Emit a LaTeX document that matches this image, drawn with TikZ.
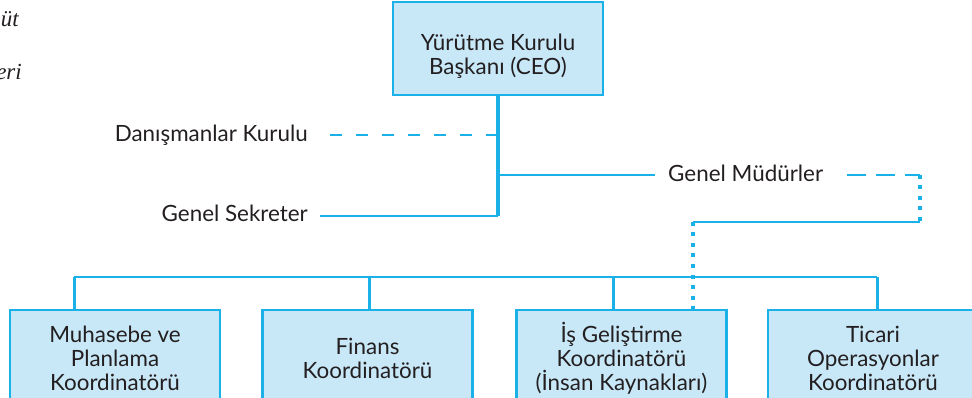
\documentclass[tikz,border=0pt]{standalone}
\usepackage{fontspec}
\setmainfont{Lato}
\newfontfamily\fragfont{Liberation Serif}
\usetikzlibrary{calc}
\definecolor{line}{HTML}{1AB0E8}
\definecolor{boxbg}{HTML}{C8E8F8}
\definecolor{ink}{HTML}{231F20}
\tikzset{
  box/.style={draw=line, fill=boxbg, line width=2.5pt, minimum width=210, minimum height=93, inner sep=0pt},
  lowbox/.style={box, minimum height=96, align=center, text=ink, font=\fontsize{22.4}{24}\selectfont},
  lab/.style={text=ink, inner sep=0pt, align=center, font=\fontsize{22.4}{24}\selectfont},
  frag/.style={text=ink, inner sep=0pt, font=\fragfont\itshape\fontsize{23}{24}\selectfont},
  spine/.style={draw=line, line width=4pt},
  link/.style={draw=line, line width=1.8pt},
  stub/.style={draw=line, line width=3pt},
  dashlink/.style={draw=line, line width=1.6pt, dash pattern=on 12pt off 14pt},
  longdash/.style={dashlink, dash pattern=on 19pt off 10pt},
  dotlink/.style={draw=line, line width=4pt, dash pattern=on 4pt off 6.5pt},
}

\begin{document}
\begin{tikzpicture}[x=1pt,y=-1pt]
  \useasboundingbox (0,0) rectangle (972,398);
  \clip (0,0) rectangle (972,398);

  % cut-off margin text
  \node[frag, anchor=base east] (fr1) at (19,27) {üt};
  \node[frag, anchor=base east] (fr2) at (22,80) {eri};

  % top of the chart
  \node[box] (ceo) at (498,48.5) {};
  \node[lab] (ceolab) at ([yshift=-8pt]ceo.center) {Yürütme Kurulu\\Başkanı (CEO)};
  \coordinate (sp) at (498,216);
  \draw[spine] (ceo.south) -- (sp);

  \node[lab, anchor=east] (adv) at (308,135) {Danışmanlar Kurulu};
  \node[lab, anchor=east] (sec) at (308,213) {Genel Sekreter};
  \node[lab, anchor=west] (gm) at (668,173) {Genel Müdürler};

  \draw[dashlink] ([xshift=22pt]adv.east) -- (adv.east -| sp);
  \draw[link] ([xshift=12pt]sec.east |- sp) -- (sp);
  \draw[link] (gm.west -| sp) ++(0,2) -- ([xshift=-13pt,yshift=-2pt]gm.west);

  % general managers loop to the HR coordinator
  \coordinate (gmc) at (920,175);
  \coordinate (gmd) at (920,222);
  \coordinate (hr) at (693,222);
  \draw[longdash] ([xshift=24pt,yshift=-2pt]gm.east) -- (gmc);
  \draw[dotlink] (gmc) -- (gmd);
  \draw[link] (gmd) -- (hr);

  % coordinators
  \foreach \n/\x/\t in {b1/115/{Muhasebe ve\\Planlama\\Koordinatörü},
                        b2/367.5/{Finans\\Koordinatörü},
                        b3/621.5/{İş Geliştirme\\Koordinatörü\\(İnsan Kaynakları)},
                        b4/873/{Ticari\\Operasyonlar\\Koordinatörü}}{
    \node[lowbox] (\n) at (\x,358) {\t};
  }

  \coordinate (busl) at (74,277);
  \coordinate (busr) at (877,277);
  \draw[link] (busl) -- (busr);
  \foreach \b/\dx in {b1/-41,b2/1.5,b3/-8.5,b4/4}{
    \draw[stub] ([xshift=\dx pt]\b.north) -- ([xshift=\dx pt]\b.north |- busl);
  }
  \draw[dotlink] (hr) -- (hr |- b3.north);
\end{tikzpicture}
\end{document}
